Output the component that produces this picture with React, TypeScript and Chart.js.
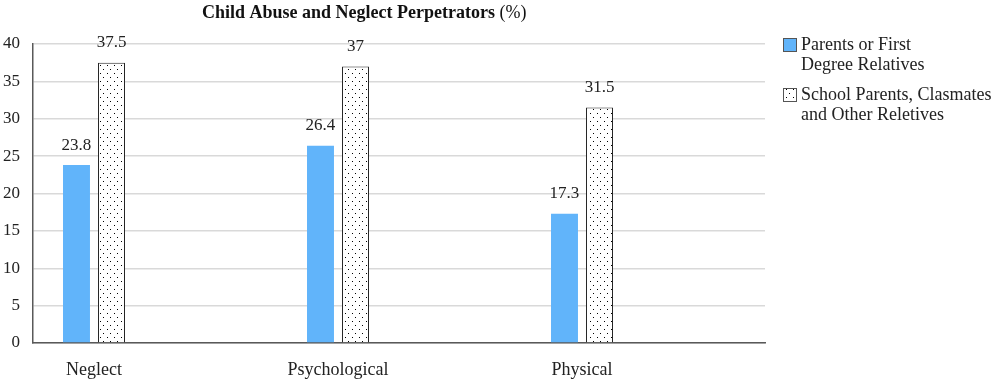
import React, { useEffect, useRef } from "react";
import { Chart, registerables } from "chart.js";

Chart.register(...registerables);

const categories = ["Neglect", "Psychological", "Physical"];
const parentsValues = [23.8, 26.4, 17.3];
const schoolValues = [37.5, 37, 31.5];
const parentsLegend = ["Parents or First", "Degree Relatives"];
const schoolLegend = ["School Parents, Clasmates", "and Other Reletives"];
const yTicks = [0, 5, 10, 15, 20, 25, 30, 35, 40];
const titleBold = "Child Abuse and Neglect Perpetrators";
const titleNormal = " (%)";

const FONT = "'Liberation Serif', serif";
const BLUE = "#61b4fa";

function makeDotPattern(): CanvasPattern | string {
  const c = document.createElement("canvas");
  c.width = 7;
  c.height = 8;
  const x = c.getContext("2d");
  if (!x) return "#fff";
  x.fillStyle = "#ffffff";
  x.fillRect(0, 0, 7, 8);
  x.fillStyle = "#000000";
  x.fillRect(2, 1, 1, 1);
  x.fillRect(5, 5, 1, 1);
  return x.createPattern(c, "repeat") || "#fff";
}

export default function App() {
  const ref = useRef<HTMLCanvasElement | null>(null);
  useEffect(() => {
    document.body.style.margin = "0";
    const canvas = ref.current;
    if (!canvas) return;
    const pattern = makeDotPattern();

    const overlay = {
      id: "overlay",
      afterDatasetsDraw(chart: any) {
        const ctx = chart.ctx;
        ctx.save();
        // data labels
        ctx.font = `17px ${FONT}`;
        ctx.fillStyle = "#222";
        ctx.textAlign = "center";
        ctx.textBaseline = "middle";
        chart.data.datasets.forEach((ds: any, di: number) => {
          const meta = chart.getDatasetMeta(di);
          meta.data.forEach((bar: any, i: number) => {
            const v = ds.data[i].y;
            ctx.fillText(String(v), bar.x, bar.y - 20);
          });
        });
        // title
        ctx.textAlign = "left";
        ctx.textBaseline = "alphabetic";
        ctx.font = `bold 18px ${FONT}`;
        ctx.fillStyle = "#111";
        const tx = 202;
        ctx.fillText(titleBold, tx, 18);
        const w = ctx.measureText(titleBold).width;
        ctx.font = `18px ${FONT}`;
        ctx.fillText(titleNormal, tx + w, 18);
        // legend
        const items = [
          { lines: parentsLegend, fill: BLUE, y: 38 },
          { lines: schoolLegend, fill: pattern, y: 88 },
        ];
        ctx.font = `18px ${FONT}`;
        ctx.textBaseline = "middle";
        items.forEach((it) => {
          ctx.fillStyle = it.fill as any;
          ctx.fillRect(783, it.y, 14, 14);
          ctx.strokeStyle = "#555";
          ctx.lineWidth = 1;
          ctx.strokeRect(783.5, it.y + 0.5, 13, 13);
          ctx.fillStyle = "#222";
          it.lines.forEach((ln, li) => {
            ctx.fillText(ln, 801, it.y + 7 + li * 20);
          });
        });
        ctx.restore();
      },
    };

    const chart = new Chart(canvas, {
      type: "bar",
      data: {
        datasets: [
          {
            label: parentsLegend.join(" "),
            data: parentsValues.map((y, i) => ({ x: i, y })),
            backgroundColor: BLUE,
            borderWidth: 0,
            barPercentage: 0.77,
            categoryPercentage: 0.287,
          },
          {
            label: schoolLegend.join(" "),
            data: schoolValues.map((y, i) => ({ x: i, y })),
            backgroundColor: pattern as any,
            borderColor: "#222",
            borderWidth: 1,
            barPercentage: 0.77,
            categoryPercentage: 0.287,
          },
        ],
      },
      options: {
        responsive: false,
        animation: false,
        parsing: { xAxisKey: "x", yAxisKey: "y" } as any,
        layout: { padding: { top: 44, right: 235, left: 0, bottom: 0 } },
        plugins: {
          legend: { display: false },
          title: { display: false },
          tooltip: { enabled: false },
        },
        scales: {
          x: {
            type: "linear",
            min: -0.25,
            max: 2.75,
            offset: false,
            grid: { display: false, drawTicks: false },
            border: { display: true, color: "#595959", width: 1.5 },
            afterBuildTicks: (scale: any) => {
              scale.ticks = categories.map((_, i) => ({ value: i }));
            },
            afterFit: (scale: any) => {
              scale.height = 46;
            },
            ticks: {
              padding: 16,
              color: "#222",
              font: { family: FONT, size: 18 },
              maxRotation: 0,
              callback: (v: any) => categories[Math.round(Number(v))] ?? "",
            },
          } as any,
          y: {
            min: 0,
            max: 40,
            grid: { color: "#d9d9d9", lineWidth: 1.5, drawTicks: false },
            border: { display: true, color: "#595959", width: 1.5 },
            afterBuildTicks: (scale: any) => {
              scale.ticks = yTicks.map((v) => ({ value: v }));
            },
            afterFit: (scale: any) => {
              scale.width = 33;
            },
            ticks: {
              padding: 13,
              color: "#222",
              font: { family: FONT, size: 17 },
            },
          } as any,
        },
      },
      plugins: [overlay],
    });
    return () => chart.destroy();
  }, []);
  return <canvas ref={ref} width={1000} height={389} style={{ display: "block" }} />;
}
